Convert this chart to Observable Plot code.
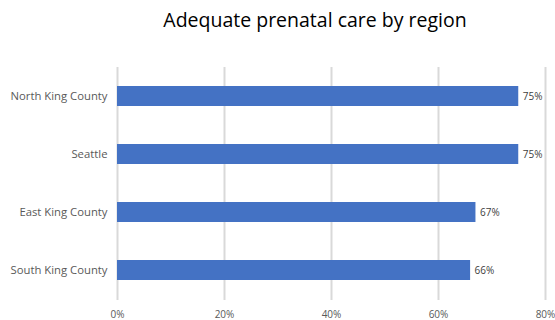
<!DOCTYPE html>
<html>
<head>
<meta charset="utf-8">
<script src="https://cdn.jsdelivr.net/npm/d3@7"></script>
<script src="https://cdn.jsdelivr.net/npm/@observablehq/plot@0.6"></script>
<style>
  body { margin: 0; background: #fff; }
  #wrap { position: relative; width: 555px; height: 320px; overflow: hidden; }
  #title { position: absolute; left: 75px; width: 480px; top: 5px; text-align: center;
           font-family: "Open Sans", sans-serif; font-size: 19.5px; color: #000; line-height: 30px; }
  #chart { position: absolute; left: 0; top: 44px; }
</style>
</head>
<body>
<div id="wrap">
  <div id="title">Adequate prenatal care by region</div>
  <div id="chart"></div>
</div>
<script>
const regions = ["North King County", "Seattle", "East King County", "South King County"];
const values = [0.75, 0.75, 0.67, 0.66];
const xTicks = [0, 0.2, 0.4, 0.6, 0.8];

const data = regions.map((r, i) => ({region: r, value: values[i]}));

const plot = Plot.plot({
  width: 555,
  height: 276,
  marginLeft: 117,
  marginRight: 10,
  marginTop: 23,
  marginBottom: 21,
  style: {fontFamily: "Open Sans, sans-serif", fontSize: "10px", color: "#595959", background: "#fff", overflow: "visible"},
  x: {domain: [0, 0.8], ticks: xTicks, tickFormat: d3.format(".0%"), label: null},
  y: {domain: regions, paddingInner: 0.655, paddingOuter: 0.3275, label: null},
  marks: [
    Plot.gridX(xTicks, {stroke: "#d9d9d9", strokeOpacity: 1, strokeWidth: 2, insetBottom: -1}),
    Plot.axisX({ticks: xTicks, tickFormat: d3.format(".0%"), tickSize: 0, tickPadding: 11, fontSize: 10, label: null}),
    Plot.axisY({tickSize: 0, tickPadding: 10, fontSize: 11.3, label: null}),
    Plot.barX(data, {x: "value", y: "region", fill: "#4472C4"}),
    Plot.text(data, {x: "value", y: "region", text: d => d3.format(".0%")(d.value), textAnchor: "start", dx: 4, fill: "#404040", fontSize: 10})
  ]
});
document.getElementById("chart").appendChild(plot);
</script>
</body>
</html>
